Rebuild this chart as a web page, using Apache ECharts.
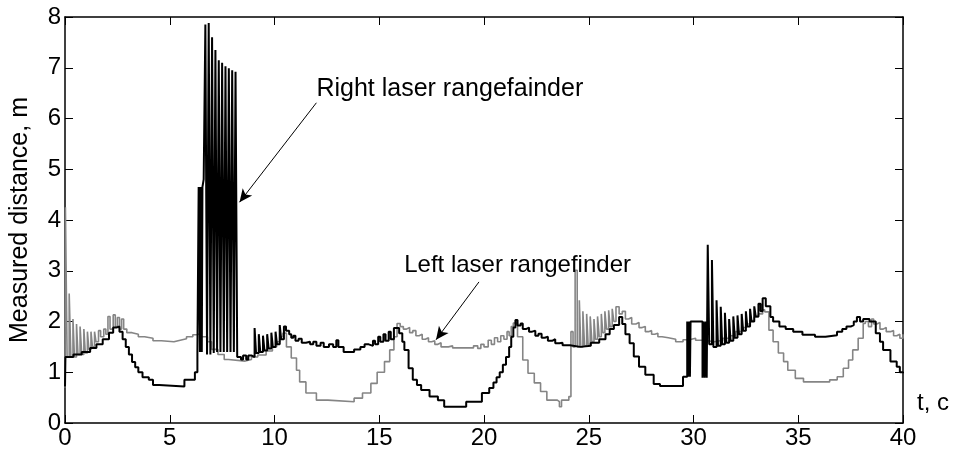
<!DOCTYPE html>
<html>
<head>
<meta charset="utf-8">
<script src="https://cdn.jsdelivr.net/npm/echarts@6/dist/echarts.min.js"></script>
<style>
  html, body { margin: 0; padding: 0; background: #fff; }
  #chart { width: 954px; height: 453px; }
</style>
</head>
<body>
<div id="chart"></div>
<script>
// [t, distance] — right laser rangefinder (black)
const rightData = [
  [0, 0.72], [0.02, 1.3], [0.4, 1.35], [0.8, 1.4], [1.2, 1.48], [1.5, 1.55], [1.8, 1.65], [2.1, 1.78],
  [2.3, 1.88], [2.45, 1.9], [2.6, 1.8], [2.75, 1.65], [2.9, 1.5], [3.05, 1.35], [3.2, 1.2], [3.35, 1.1],
  [3.5, 1.0], [3.7, 0.9], [4.0, 0.85], [4.2, 0.75], [4.5, 0.72], [5.7, 0.85], [6.2, 1.0], [6.32, 1.4],
  [6.38, 4.65], [6.44, 1.4], [6.47, 4.65], [6.53, 1.4], [6.56, 4.65], [6.62, 4.8], [6.7, 7.85], [6.78, 1.35],
  [6.86, 7.88], [6.94, 1.35], [7.02, 7.6], [7.1, 1.38], [7.18, 7.35], [7.26, 1.4], [7.34, 7.15], [7.42, 1.4],
  [7.5, 7.1], [7.58, 1.4], [7.66, 7.03], [7.74, 1.4], [7.82, 6.99], [7.9, 1.4], [7.98, 6.95], [8.06, 1.4],
  [8.14, 6.92], [8.22, 1.3], [8.4, 1.25], [8.5, 1.33], [8.65, 1.25], [8.75, 1.33], [8.9, 1.3],
  [9.05, 1.87], [9.12, 1.38], [9.25, 1.75], [9.32, 1.4], [9.45, 1.72], [9.52, 1.43], [9.65, 1.75], [9.72, 1.47],
  [9.85, 1.78], [9.92, 1.5], [10.05, 1.8], [10.12, 1.55], [10.25, 1.93], [10.32, 1.65], [10.45, 1.9], [10.55, 1.82],
  [10.7, 1.75], [10.8, 1.68], [10.9, 1.72], [11.0, 1.62], [11.15, 1.66], [11.3, 1.58], [11.5, 1.6], [11.7, 1.55],
  [11.85, 1.6], [12.0, 1.52], [12.2, 1.58], [12.35, 1.5], [12.6, 1.55], [12.8, 1.5], [12.95, 1.63], [13.05, 1.5],
  [13.3, 1.4], [13.8, 1.45], [14.1, 1.5], [14.3, 1.55], [14.5, 1.52], [14.7, 1.62], [14.8, 1.55], [14.95, 1.7],
  [15.05, 1.6], [15.2, 1.75], [15.3, 1.62], [15.45, 1.8], [15.55, 1.65], [15.7, 1.87],
  [15.95, 1.77], [16.1, 1.6], [16.2, 1.44], [16.4, 1.08], [16.6, 0.85], [16.8, 0.75], [17.0, 0.65], [17.4, 0.52],
  [17.8, 0.45], [18.1, 0.32], [19.15, 0.42], [19.9, 0.59], [20.25, 0.69], [20.45, 0.8], [20.6, 0.9], [20.75, 1.0],
  [20.9, 1.15], [21.05, 1.3], [21.2, 1.5], [21.3, 1.7], [21.4, 1.88], [21.5, 2.03],
  [21.6, 1.92], [21.75, 1.96], [21.85, 1.85], [22.0, 1.88], [22.15, 1.8], [22.3, 1.82], [22.45, 1.72], [22.6, 1.76],
  [22.75, 1.68], [22.9, 1.7], [23.05, 1.62], [23.25, 1.65], [23.4, 1.57], [23.6, 1.58], [23.75, 1.53], [24.1, 1.5],
  [24.6, 1.52], [25.1, 1.58], [25.5, 1.65], [25.8, 1.75], [26.0, 1.85], [26.2, 1.93], [26.45, 2.09],
  [26.6, 1.95], [26.75, 1.75], [26.95, 1.57], [27.15, 1.31], [27.4, 1.11], [27.7, 0.95], [28.1, 0.77], [28.4, 0.73],
  [29.5, 0.91], [29.7, 2.0], [29.75, 0.91], [29.78, 2.0], [29.83, 0.91], [29.86, 2.0], [30.43, 0.89], [30.48, 2.0],
  [30.53, 0.89], [30.58, 2.0], [30.63, 0.89], [30.68, 3.51], [30.75, 1.55], [30.88, 3.21], [30.95, 1.5], [31.1, 2.42],
  [31.17, 1.52], [31.3, 2.29], [31.37, 1.55], [31.5, 2.17], [31.57, 1.58], [31.7, 2.05], [31.77, 1.62], [31.9, 2.1],
  [31.97, 1.68], [32.1, 2.12], [32.17, 1.75], [32.3, 2.15], [32.37, 1.82], [32.5, 2.2], [32.57, 1.9], [32.7, 2.25],
  [32.77, 2.0], [32.9, 2.3], [32.97, 2.1], [33.1, 2.35], [33.2, 2.2], [33.3, 2.46],
  [33.45, 2.3], [33.67, 2.09], [33.8, 2.0], [34.1, 1.9], [34.4, 1.85], [34.76, 1.8], [35.2, 1.74], [35.8, 1.7],
  [36.3, 1.73], [36.85, 1.8], [37.1, 1.85], [37.3, 1.9], [37.5, 1.93], [37.65, 2.0], [37.8, 2.09], [37.95, 2.0],
  [38.1, 2.05], [38.4, 2.0], [38.7, 1.77], [38.9, 1.6], [39.05, 1.44], [39.4, 1.21], [39.7, 1.11], [39.85, 1.0],
  [40, 0.98]
];

// [t, distance] — left laser rangefinder (grey)
const leftData = [
  [0, 0.7], [0.02, 4.25], [0.1, 1.3], [0.2, 2.55], [0.28, 1.3], [0.38, 2.05], [0.45, 1.3], [0.55, 1.95],
  [0.62, 1.35], [0.72, 1.9], [0.8, 1.35], [0.9, 1.85], [0.97, 1.38], [1.07, 1.8], [1.14, 1.45], [1.24, 1.8],
  [1.31, 1.5], [1.41, 1.8], [1.48, 1.6], [1.6, 1.82], [1.7, 1.7], [1.85, 1.85], [1.95, 1.75], [2.05, 2.1],
  [2.15, 1.85], [2.3, 2.13], [2.4, 1.9], [2.5, 2.08], [2.6, 1.85], [2.7, 2.05], [2.8, 1.85], [2.95, 1.78],
  [3.2, 1.75], [3.5, 1.7], [3.8, 1.67], [4.2, 1.62], [4.6, 1.6], [5.2, 1.63], [5.5, 1.66], [5.8, 1.7],
  [6.1, 1.74], [6.3, 1.77], [6.5, 1.7], [6.8, 1.6], [7.0, 1.45], [7.3, 1.35], [7.6, 1.25], [7.8, 1.22],
  [8.6, 1.25], [8.9, 1.3], [9.2, 1.34], [9.6, 1.42], [9.9, 1.5], [10.1, 1.6], [10.25, 1.7], [10.4, 1.77],
  [10.57, 1.5], [10.8, 1.28], [11.05, 1.04], [11.2, 0.81], [11.5, 0.59], [12.0, 0.45], [12.55, 0.42], [13.8, 0.49],
  [14.2, 0.59], [14.6, 0.78], [14.9, 1.0], [15.25, 1.21], [15.5, 1.44], [15.7, 1.7], [15.85, 1.96], [16.0, 1.9],
  [16.15, 1.85], [16.3, 1.88], [16.45, 1.78], [16.6, 1.82], [16.75, 1.72], [16.9, 1.75], [17.05, 1.65], [17.2, 1.68],
  [17.35, 1.6], [17.5, 1.62], [17.65, 1.55], [17.8, 1.58], [17.95, 1.5], [18.3, 1.52], [18.5, 1.48], [19.5, 1.52],
  [19.7, 1.47], [19.85, 1.55], [20.0, 1.5], [20.2, 1.63], [20.35, 1.55], [20.5, 1.68], [20.65, 1.6], [20.8, 1.72],
  [20.95, 1.65], [21.1, 1.8], [21.2, 1.72], [21.3, 1.9], [21.4, 1.97], [21.6, 1.7], [21.85, 1.24], [22.1, 0.98],
  [22.4, 0.79], [22.7, 0.62], [23.0, 0.45], [23.5, 0.42], [23.6, 0.32], [23.7, 0.45], [24.05, 0.52], [24.15, 1.8],
  [24.25, 1.5], [24.35, 3.01], [24.45, 1.5], [24.55, 2.42], [24.62, 1.5], [24.72, 2.2], [24.8, 1.52], [24.9, 2.15],
  [24.97, 1.55], [25.07, 2.1], [25.15, 1.6], [25.25, 2.05], [25.32, 1.65], [25.42, 2.1], [25.5, 1.7], [25.6, 2.15],
  [25.67, 1.78], [25.77, 2.2], [25.85, 1.85], [25.95, 2.22], [26.02, 1.9], [26.12, 2.25], [26.2, 2.0], [26.3, 2.29],
  [26.45, 2.15], [26.6, 2.2], [26.75, 2.05], [26.9, 2.08], [27.05, 1.95], [27.25, 1.98], [27.4, 1.88], [27.55, 1.9],
  [27.7, 1.8], [27.85, 1.82], [28.0, 1.75], [28.15, 1.77], [28.3, 1.7], [28.5, 1.68], [28.8, 1.65], [29.15, 1.6],
  [29.5, 1.64], [29.8, 1.67], [30.1, 1.63], [30.5, 1.6], [31.0, 1.63], [31.4, 1.67], [31.7, 1.72], [32.0, 1.8],
  [32.3, 1.88], [32.5, 1.95], [32.7, 2.02], [32.9, 2.09], [33.1, 2.15], [33.3, 2.23], [33.4, 2.19], [33.6, 1.83],
  [33.8, 1.6], [34.05, 1.38], [34.3, 1.21], [34.5, 1.04], [34.86, 0.88], [35.25, 0.81], [36.5, 0.85], [36.86, 0.91],
  [37.15, 1.08], [37.4, 1.24], [37.6, 1.44], [37.86, 1.67], [38.1, 1.96], [38.2, 2.0], [38.35, 1.9], [38.5, 2.05],
  [38.6, 1.95], [38.75, 1.98], [38.9, 1.85], [39.05, 1.88], [39.2, 1.8], [39.4, 1.82], [39.55, 1.72], [39.7, 1.75],
  [39.85, 1.67], [40, 1.75]
];

// annotation text anchors and arrows, in data units [t, distance]
const rightLabelAt = [12.0, 6.58];
const rightArrow = [[12.0, 6.31], [8.33, 4.35]];
const leftLabelAt = [16.19, 3.11];
const leftArrow = [[19.76, 2.78], [17.71, 1.64]];

const FONT = "Liberation Sans, Arial, sans-serif";
const chart = echarts.init(document.getElementById("chart"));

const baseAxis = {
  axisLine: { show: true, onZero: false, lineStyle: { color: "#000", width: 1.5 } },
  axisTick: { show: true, inside: true, length: 8, lineStyle: { color: "#000", width: 1 } },
  splitLine: { show: false },
};

const textLabel = (txt, size) => ({
  show: true,
  formatter: txt,
  position: "right",
  distance: 0,
  color: "#000",
  fontSize: size,
  fontFamily: FONT,
});

const arrow = (pts) => [
  { coord: pts[0], symbol: "none" },
  { coord: pts[1], symbol: "arrow", symbolSize: [9, 13] },
];

chart.setOption({
  animation: false,
  backgroundColor: "#fff",
  grid: { left: 63, right: 51, top: 17, bottom: 30 },
  xAxis: [
    {
      ...baseAxis,
      type: "value",
      min: 0,
      max: 40,
      interval: 5,
      position: "bottom",
      axisLabel: { color: "#000", fontSize: 24, fontFamily: FONT, margin: 3 },
      name: "t, c",
      nameLocation: "end",
      nameGap: 14,
      nameTextStyle: { color: "#000", fontSize: 24, fontFamily: FONT, verticalAlign: "bottom", padding: [0, 0, 8, 0] },
    },
    { ...baseAxis, type: "value", min: 0, max: 40, interval: 5, position: "top", axisLabel: { show: false } },
  ],
  yAxis: [
    {
      ...baseAxis,
      type: "value",
      min: 0,
      max: 8,
      interval: 1,
      position: "left",
      axisLabel: { color: "#000", fontSize: 24, fontFamily: FONT, margin: 4 },
      name: "Measured distance, m",
      nameLocation: "middle",
      nameGap: 32,
      nameTextStyle: { color: "#000", fontSize: 25, fontFamily: FONT },
    },
    { ...baseAxis, type: "value", min: 0, max: 8, interval: 1, position: "right", axisLabel: { show: false } },
  ],
  series: [
    {
      name: "Left laser rangefinder",
      type: "line",
      step: "end",
      data: leftData,
      showSymbol: false,
      lineStyle: { color: "#858585", width: 1.6 },
      z: 2,
      markPoint: {
        silent: true,
        symbol: "rect",
        symbolSize: 0,
        data: [{ coord: leftLabelAt, label: textLabel("Left laser rangefinder", 24) }],
      },
      markLine: {
        silent: true,
        label: { show: false },
        lineStyle: { color: "#000", width: 1, type: "solid" },
        data: [arrow(leftArrow)],
      },
    },
    {
      name: "Right laser rangefainder",
      type: "line",
      step: "end",
      data: rightData,
      showSymbol: false,
      lineStyle: { color: "#000", width: 2 },
      z: 3,
      markPoint: {
        silent: true,
        symbol: "rect",
        symbolSize: 0,
        data: [{ coord: rightLabelAt, label: textLabel("Right laser rangefainder", 25) }],
      },
      markLine: {
        silent: true,
        label: { show: false },
        lineStyle: { color: "#000", width: 1, type: "solid" },
        data: [arrow(rightArrow)],
      },
    },
  ],
});

window.addEventListener("resize", () => {
  chart.resize();
});
</script>
</body>
</html>
